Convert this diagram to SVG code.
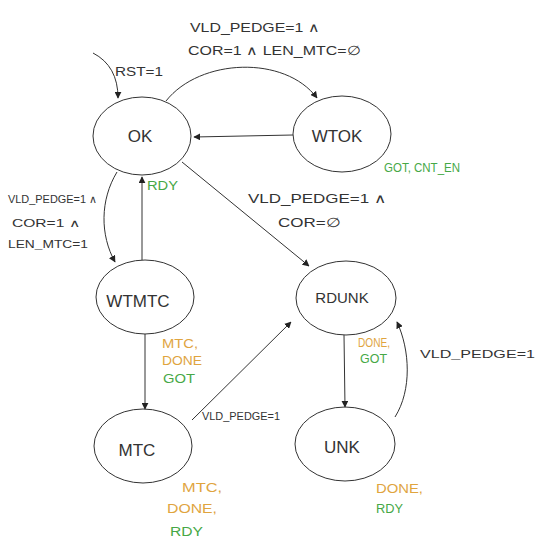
<svg xmlns="http://www.w3.org/2000/svg" width="537" height="538" viewBox="0 0 537 538">
<style>
.bg{fill:#ffffff}
.st{fill:none;stroke:#333;stroke-width:1}
.cn{fill:none;stroke:#333;stroke-width:1}
.nm{font-family:"Liberation Sans",Arial,sans-serif;font-size:17px;fill:#333;text-anchor:middle}
.lb{font-family:"Liberation Sans",Arial,sans-serif;font-size:13px;fill:#333}
.sm{font-family:"Liberation Sans",Arial,sans-serif;font-size:11px;fill:#333}
.or{font-family:"Liberation Sans",Arial,sans-serif;font-size:12px;fill:#e0a43e}
.gr{font-family:"Liberation Sans",Arial,sans-serif;font-size:12px;fill:#46a846}
</style>
<defs>
<marker id="ah" viewBox="0 0 10 10" refX="9" refY="5" markerWidth="7" markerHeight="7" markerUnits="userSpaceOnUse" orient="auto">
<path d="M0,0 L10,5 L0,10 z" fill="#222"/>
</marker>
</defs>
<rect class="bg" x="0" y="0" width="537" height="538"/>
<g id="connectors">
<path class="cn" d="M93,53 Q118,66 118,98" marker-end="url(#ah)"/>
<path class="cn" d="M166,101 C200,58 285,55 317,98" marker-end="url(#ah)"/>
<path class="cn" d="M293,135 L194,137" marker-end="url(#ah)"/>
<path class="cn" d="M117,172 C100,200 100,235 115,262" marker-end="url(#ah)"/>
<path class="cn" d="M142,260 L142,177" marker-end="url(#ah)"/>
<path class="cn" d="M182,162 L309,266" marker-end="url(#ah)"/>
<path class="cn" d="M145,334 L145,409" marker-end="url(#ah)"/>
<path class="cn" d="M192,420 L291,322" marker-end="url(#ah)"/>
<path class="cn" d="M344,335 L345,407" marker-end="url(#ah)"/>
<path class="cn" d="M395,417 C412,390 410,350 397,322" marker-end="url(#ah)"/>
</g>
<g id="labels">
<text class="lb" x="115" y="76" textLength="48" lengthAdjust="spacingAndGlyphs">RST=1</text>
<text class="lb" x="190" y="32" textLength="130" lengthAdjust="spacingAndGlyphs">VLD_PEDGE=1 ∧</text>
<text class="lb" x="188" y="55" textLength="172" lengthAdjust="spacingAndGlyphs">COR=1 ∧ LEN_MTC=∅</text>
<text class="sm" x="8" y="203" textLength="89" lengthAdjust="spacingAndGlyphs">VLD_PEDGE=1 ∧</text>
<text class="sm" x="12" y="227" textLength="68" lengthAdjust="spacingAndGlyphs">COR=1 ∧</text>
<text class="sm" x="8" y="248" textLength="80" lengthAdjust="spacingAndGlyphs">LEN_MTC=1</text>
<text class="lb" x="248" y="203" textLength="139" lengthAdjust="spacingAndGlyphs">VLD_PEDGE=1 ∧</text>
<text class="lb" x="278" y="227" textLength="62" lengthAdjust="spacingAndGlyphs">COR=∅</text>
<text class="sm" x="202" y="420" textLength="78" lengthAdjust="spacingAndGlyphs">VLD_PEDGE=1</text>
<text class="sm" x="420" y="358" textLength="115" lengthAdjust="spacingAndGlyphs">VLD_PEDGE=1</text>
<text class="gr" x="384" y="172" textLength="76" lengthAdjust="spacingAndGlyphs">GOT, CNT_EN</text>
<text class="gr" x="147" y="190" textLength="31" lengthAdjust="spacingAndGlyphs">RDY</text>
<text class="or" x="162" y="348" textLength="36" lengthAdjust="spacingAndGlyphs">MTC,</text>
<text class="or" x="162" y="365" textLength="40" lengthAdjust="spacingAndGlyphs">DONE</text>
<text class="gr" x="163" y="383" textLength="32" lengthAdjust="spacingAndGlyphs">GOT</text>
<text class="or" x="358" y="347" textLength="32" lengthAdjust="spacingAndGlyphs">DONE,</text>
<text class="gr" x="360" y="363" textLength="27" lengthAdjust="spacingAndGlyphs">GOT</text>
<text class="or" x="182" y="492" textLength="40" lengthAdjust="spacingAndGlyphs">MTC,</text>
<text class="or" x="167" y="513" textLength="50" lengthAdjust="spacingAndGlyphs">DONE,</text>
<text class="gr" x="170" y="536" textLength="33" lengthAdjust="spacingAndGlyphs">RDY</text>
<text class="or" x="376" y="493" textLength="47" lengthAdjust="spacingAndGlyphs">DONE,</text>
<text class="gr" x="376" y="513" textLength="27" lengthAdjust="spacingAndGlyphs">RDY</text>
</g>
<g id="OK">
<ellipse class="st" cx="142" cy="136" rx="49" ry="39"/>
<text class="nm" x="140" y="142">OK</text>
</g>
<g id="WTOK">
<ellipse class="st" cx="342" cy="134" rx="49" ry="38"/>
<text class="nm" x="337" y="142">WTOK</text>
</g>
<g id="WTMTC">
<ellipse class="st" cx="145" cy="297" rx="49" ry="37"/>
<text class="nm" x="138" y="307">WTMTC</text>
</g>
<g id="RDUNK">
<ellipse class="st" cx="346" cy="298" rx="50" ry="37"/>
<text class="nm" x="342" y="303" style="font-size:15px">RDUNK</text>
</g>
<g id="MTC">
<ellipse class="st" cx="143" cy="446" rx="49" ry="37"/>
<text class="nm" x="137" y="456">MTC</text>
</g>
<g id="UNK">
<ellipse class="st" cx="345" cy="444" rx="50" ry="37"/>
<text class="nm" x="342" y="453">UNK</text>
</g>
</svg>
